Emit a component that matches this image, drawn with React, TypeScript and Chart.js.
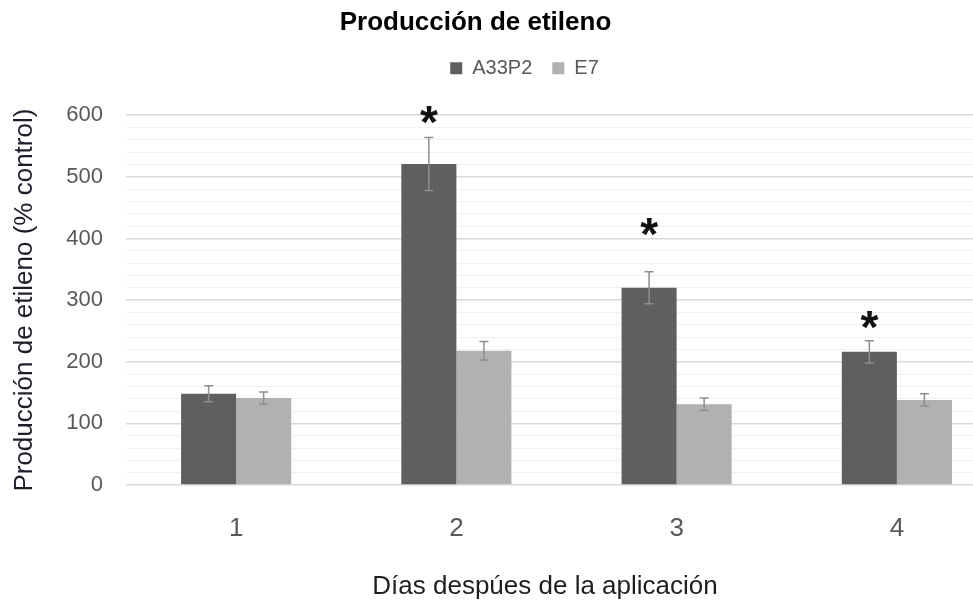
import React, { useEffect, useRef } from 'react';
import { Chart, registerables } from 'chart.js';

Chart.register(...registerables);

// ---- data ----
const DAYS = ['1', '2', '3', '4'];
const SERIES_NAMES = ['A33P2', 'E7'];
const A33P2 = [148, 521, 320, 216];
const A33P2_ERR = [13, 43, 26, 18];
const E7 = [141, 218, 131, 138];
const E7_ERR = [10, 15, 10, 10];
// height (in % control) at which the significance asterisk sits above A33P2
const A33P2_SIG: (number | null)[] = [null, 600, 418, 268];
const Y_MIN = 0;
const Y_MAX = 600;
const Y_STEP_MINOR = 20;
const Y_STEP_MAJOR = 100;

const TITLE = 'Producción de etileno';
const Y_TITLE = 'Producción de etileno (% control)';
const X_TITLE = 'Días despúes de la aplicación';

const FONT = "'Liberation Sans', Arial, sans-serif";
const DARK = '#5f5f5f';
const LIGHT = '#b1b1b1';
const TEXT_GRAY = '#595959';

export default function App() {
  const ref = useRef<HTMLCanvasElement>(null);

  useEffect(() => {
    const canvas = ref.current;
    if (!canvas) return;

    const LEGEND_GAP = 27;
    const TITLE_SHIFT = -28;
    const LEGEND_SHIFT = 21;

    const extras = {
      id: 'extras',
      afterInit(chart: any) {
        const lg = chart.legend;
        if (lg) {
          const orig = lg.fit.bind(lg);
          lg.fit = () => {
            orig();
            lg.height += LEGEND_GAP;
          };
        }
      },
      afterLayout(chart: any) {
        const t = chart.titleBlock;
        if (t) {
          t.left += TITLE_SHIFT;
          t.right += TITLE_SHIFT;
        }
        const lg = chart.legend;
        if (lg) {
          lg.left += LEGEND_SHIFT;
          lg.right += LEGEND_SHIFT;
        }
      },
      afterDatasetsDraw(chart: any) {
        const ctx = chart.ctx;
        const y = chart.scales.y;
        const errs = [A33P2_ERR, E7_ERR];
        const vals = [A33P2, E7];
        ctx.save();
        ctx.strokeStyle = '#8e8e8e';
        ctx.lineWidth = 1.5;
        [0, 1].forEach((di) => {
          const meta = chart.getDatasetMeta(di);
          meta.data.forEach((bar: any, i: number) => {
            const v = vals[di][i];
            const e = errs[di][i];
            const yt = y.getPixelForValue(v + e);
            const yb = y.getPixelForValue(v - e);
            const x = bar.x;
            ctx.beginPath();
            ctx.moveTo(x, yt);
            ctx.lineTo(x, yb);
            ctx.moveTo(x - 4.5, yt);
            ctx.lineTo(x + 4.5, yt);
            ctx.moveTo(x - 4.5, yb);
            ctx.lineTo(x + 4.5, yb);
            ctx.stroke();
          });
        });
        // significance asterisks
        const meta0 = chart.getDatasetMeta(0);
        ctx.fillStyle = '#111';
        ctx.font = `bold 46px ${FONT}`;
        ctx.textAlign = 'center';
        ctx.textBaseline = 'alphabetic';
        meta0.data.forEach((bar: any, i: number) => {
          const s = A33P2_SIG[i];
          if (s == null) return;
          const yc = y.getPixelForValue(s);
          ctx.fillText('*', bar.x, yc + 23);
        });
        ctx.restore();
      },
      afterDraw(chart: any) {
        const ctx = chart.ctx;
        ctx.save();
        ctx.fillStyle = '#1e1e1e';
        ctx.font = `26px ${FONT}`;
        ctx.textAlign = 'center';
        ctx.textBaseline = 'alphabetic';
        ctx.fillText(X_TITLE, 545, 594);
        ctx.restore();
      },
    };

    const chart = new Chart(canvas, {
      type: 'bar',
      data: {
        labels: DAYS,
        datasets: [
          {
            label: SERIES_NAMES[0],
            data: A33P2,
            backgroundColor: DARK,
            categoryPercentage: 0.5,
            barPercentage: 1,
          },
          {
            label: SERIES_NAMES[1],
            data: E7,
            backgroundColor: LIGHT,
            categoryPercentage: 0.5,
            barPercentage: 1,
          },
        ],
      },
      options: {
        responsive: false,
        animation: false,
        devicePixelRatio: 1,
        layout: { padding: { left: 0, right: 5, top: 0, bottom: 0 } },
        plugins: {
          title: {
            display: true,
            text: TITLE,
            color: '#000',
            font: { family: FONT, size: 26, weight: 'bold' },
            padding: { top: 7, bottom: 0 },
          },
          legend: {
            display: true,
            position: 'top',
            labels: {
              boxWidth: 12,
              boxHeight: 12,
              padding: 20,
              color: TEXT_GRAY,
              font: { family: FONT, size: 20 },
            },
          },
          tooltip: { enabled: false },
        },
        scales: {
          x: {
            grid: { display: false, drawTicks: false },
            border: { display: false },
            ticks: {
              color: TEXT_GRAY,
              font: { family: FONT, size: 26 },
              padding: 28,
            },
            afterFit: (s: any) => {
              s.height = 118;
            },
          },
          y: {
            min: Y_MIN,
            max: Y_MAX,
            border: { display: false },
            grid: {
              drawTicks: false,
              color: (c: any) =>
                c.tick && c.tick.value % Y_STEP_MAJOR === 0 ? '#d9d9d9' : '#f0f0f0',
              lineWidth: (c: any) =>
                c.tick && c.tick.value % Y_STEP_MAJOR === 0 ? 1.5 : 1,
            },
            ticks: {
              stepSize: Y_STEP_MINOR,
              autoSkip: false,
              padding: 23,
              color: TEXT_GRAY,
              font: { family: FONT, size: 22 },
              callback: (v: any) => (Number(v) % Y_STEP_MAJOR === 0 ? String(v) : ''),
            },
            title: {
              display: true,
              text: Y_TITLE,
              color: '#1e1e2a',
              font: { family: FONT, size: 26 },
              padding: { top: 9, bottom: 0 },
            },
            afterFit: (s: any) => {
              s.width = 126;
            },
          },
        },
      },
      plugins: [extras],
    } as any);

    return () => chart.destroy();
  }, []);

  return (
    <div
      style={{
        position: 'absolute',
        left: 0,
        top: 0,
        width: 973,
        height: 603,
        overflow: 'hidden',
        background: '#fff',
      }}
    >
      <canvas ref={ref} width={1012} height={603} style={{ display: 'block' }} />
    </div>
  );
}
